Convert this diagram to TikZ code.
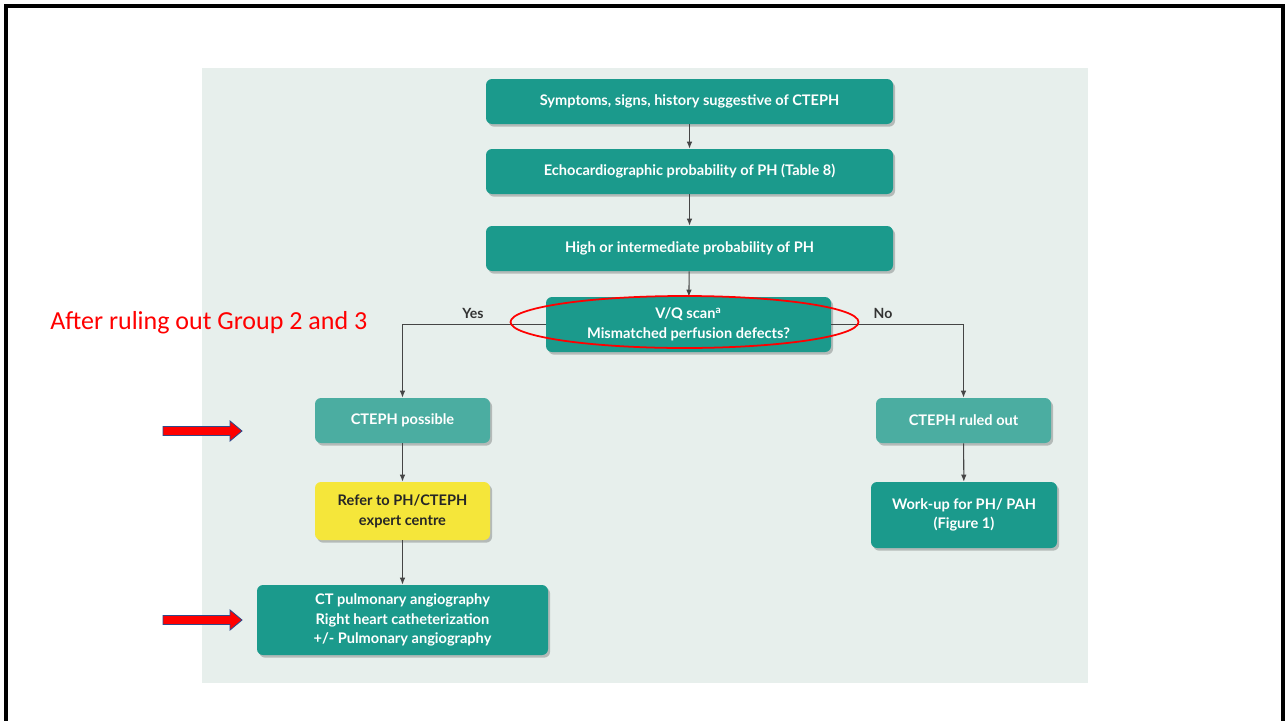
\documentclass[tikz,border=0pt]{standalone}
\usepackage{fontspec}
\setmainfont{Lato}
\newfontfamily\notefont{Carlito}
\usetikzlibrary{shapes.geometric, shadows, arrows.meta}

\definecolor{panel}{HTML}{E7EFEC}
\definecolor{tealdark}{HTML}{1B9A8C}
\definecolor{teallight}{HTML}{4BADA1}
\definecolor{referyellow}{HTML}{F5E63A}
\definecolor{linkgray}{HTML}{454545}
\definecolor{arrowedge}{HTML}{2F4A8A}

\tikzset{
  wh/.style 2 args={minimum width=#1*0.02cm, minimum height=#2*0.02cm},
  stepbox/.style={rounded corners=0.12cm, inner sep=1pt, align=center,
    font=\bfseries\fontsize{8.3}{11.2}\selectfont, text=white,
    drop shadow={shadow xshift=1.2pt, shadow yshift=-1.5pt, opacity=0.22, fill=black}},
  darkbox/.style={stepbox, fill=tealdark},
  lightbox/.style={stepbox, fill=teallight},
  yellowbox/.style={stepbox, fill=referyellow, text=black!85},
  conn/.style={draw=linkgray, line width=0.6pt, -{Latex[length=4pt,width=3.2pt]}},
  choice/.style={font=\bfseries\fontsize{8}{9}\selectfont, text=black!80},
  pointer/.style={fill=red, draw=arrowedge, line width=0.5pt},
}

\begin{document}
\begin{tikzpicture}[x=0.02cm, y=-0.02cm]
\useasboundingbox (0,0) rectangle (1287,720);
\fill[white] (0,0) rectangle (1287,720);

% slide frame (open at the bottom)
\draw[line width=1.8pt] (6,724) -- (6,6) -- (1283,6) -- (1283,724);

% figure panel
\fill[panel] (202,68) rectangle (1088,683);

% flowchart boxes
\node[darkbox, wh={407}{45}] (sym) at (689.5,101.5) {Symptoms, signs, history suggestive of CTEPH};
\node[darkbox, wh={407}{45}] (echo) at (689.5,171.5) {Echocardiographic probability of PH (Table 8)};
\node[darkbox, wh={407}{45}] (high) at (689.5,248.5) {High or intermediate probability of PH};
\node[darkbox, wh={285}{55}] (vq) at (688.5,324.5) {V/Q scan\textsuperscript{a}\\Mismatched perfusion defects?};
\node[lightbox, wh={175}{45}] (poss) at (402.5,420.5) {CTEPH possible};
\node[yellowbox, wh={175}{58}] (refer) at (402.5,511) {Refer to PH/CTEPH\\expert centre};
\node[darkbox, wh={291}{70}] (ctpa) at (402.5,620) {CT pulmonary angiography\\Right heart catheterization\\+/- Pulmonary angiography};
\node[lightbox, wh={175}{45}] (out) at (963.5,420.5) {CTEPH ruled out};
\node[darkbox, wh={186}{66}] (work) at (964,515) {Work-up for PH/ PAH\\(Figure 1)};

% connectors
\draw[conn] (sym) -- (echo);
\draw[conn] (echo) -- (high);
\draw[conn] (high) -- (vq);
\draw[conn] (vq.west) -| (poss.north);
\draw[conn] (vq.east) -| (out.north);
\draw[conn] (poss) -- (refer);
\draw[conn] (refer) -- (ctpa);
\draw[conn] (out) -- (work);

% branch labels
\node[choice] (yes) at (473,313.5) {Yes};
\node[choice] (no) at (883,313.5) {No};

% red annotations
\node[draw=red, line width=1pt, ellipse, wh={348}{52}, inner sep=0pt] (focus) at (684.5,322) {};
\node[anchor=west, inner sep=0pt, text=red, font=\notefont\fontsize{14.8}{16}\selectfont] (note) at (50,323) {After ruling out Group 2 and 3};

\draw[pointer] (163,426.5) -- (230,426.5) -- (230,421) -- (242,431) -- (230,441) -- (230,435.5) -- (163,435.5) -- cycle;
\draw[pointer] (163,615.5) -- (230,615.5) -- (230,610) -- (242,620) -- (230,630) -- (230,624.5) -- (163,624.5) -- cycle;
\end{tikzpicture}
\end{document}
